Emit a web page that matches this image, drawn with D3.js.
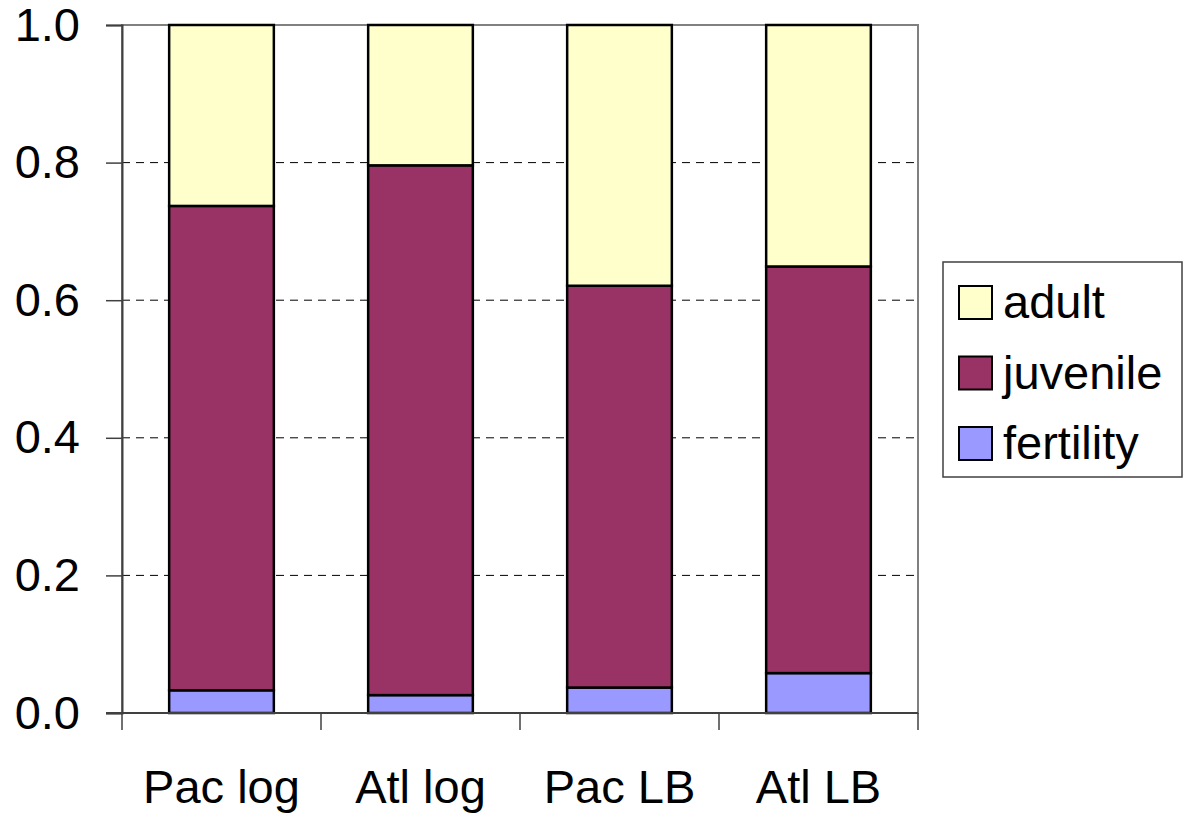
<!DOCTYPE html>
<html><head><meta charset="utf-8">
<script src="https://cdn.jsdelivr.net/npm/d3@7"></script>
<style>body{margin:0;background:#fff}svg{display:block}text{font-family:"Liberation Sans",Arial,sans-serif}</style>
</head><body><svg id="c" width="1189" height="819"></svg>
<script>
const categories = ["Pac log", "Atl log", "Pac LB", "Atl LB"];
const fertility = [0.033, 0.026, 0.037, 0.058];
const juvenile = [0.704, 0.770, 0.584, 0.591];
const adult = [0.263, 0.204, 0.379, 0.351];
const seriesNames = ["fertility", "juvenile", "adult"];
const colors = {fertility: "#9999FF", juvenile: "#993366", adult: "#FFFFCC"};
const yTicks = [0, 0.2, 0.4, 0.6, 0.8, 1.0];

const FS = 47;
const svg = d3.select("#c");
const L = 122, R = 918, T = 25, B = 713;
const x = d3.scaleBand().domain(categories).range([L, R]).paddingInner(0.474).paddingOuter(0.237);
const y = d3.scaleLinear().domain([0, 1]).range([B, T]);

const rows = categories.map((c, i) => ({cat: c, fertility: fertility[i], juvenile: juvenile[i], adult: adult[i]}));
const stacked = d3.stack().keys(seriesNames)(rows);

// plot border (gray)
svg.append("rect").attr("x", L).attr("y", T).attr("width", R - L).attr("height", B - T)
  .attr("fill", "none").attr("stroke", "#808080").attr("stroke-width", 2);

// gridlines
svg.append("g").selectAll("line").data(yTicks.filter(v => v > 0 && v < 1)).join("line")
  .attr("x1", L).attr("x2", R).attr("y1", d => y(d)).attr("y2", d => y(d))
  .attr("stroke", "#000").attr("stroke-width", 1).attr("stroke-dasharray", "8,6");

// bars
svg.append("g").selectAll("g").data(stacked).join("g")
  .attr("fill", d => colors[d.key])
  .selectAll("rect").data(d => d).join("rect")
  .attr("x", d => x(d.data.cat)).attr("width", x.bandwidth())
  .attr("y", d => y(d[1])).attr("height", d => y(d[0]) - y(d[1]))
  .attr("stroke", "#000").attr("stroke-width", 2.5);

// y axis
const ya = d3.axisLeft(y).tickValues(yTicks).tickFormat(d3.format(".1f")).tickSize(16).tickPadding(26);
const gy = svg.append("g").attr("transform", `translate(${L},0)`).call(ya);
gy.select(".domain").attr("stroke", "#404040").attr("stroke-width", 2);
gy.selectAll(".tick line").attr("stroke", "#404040").attr("stroke-width", 1.5);
gy.selectAll("text").attr("font-size", FS).attr("fill", "#000").attr("font-family", '"Liberation Sans",Arial,sans-serif');

// x axis
const xb = d3.scaleLinear().domain([0, categories.length]).range([L, R]);
const gx = svg.append("g").attr("transform", `translate(0,${B})`);
gx.append("line").attr("x1", L - 16).attr("x2", R).attr("y1", 0).attr("y2", 0).attr("stroke", "#404040").attr("stroke-width", 2);
gx.selectAll("line.t").data(d3.range(categories.length + 1)).join("line").attr("class", "t")
  .attr("x1", d => xb(d)).attr("x2", d => xb(d)).attr("y1", 0).attr("y2", 17)
  .attr("stroke", "#404040").attr("stroke-width", 1.5);
gx.selectAll("text").data(categories).join("text")
  .attr("x", d => x(d) + x.bandwidth() / 2).attr("y", 90)
  .attr("text-anchor", "middle").attr("font-size", FS).attr("fill", "#000").text(d => d);

// legend
const lg = svg.append("g");
lg.append("rect").attr("x", 943).attr("y", 262).attr("width", 239).attr("height", 215)
  .attr("fill", "#fff").attr("stroke", "#404040").attr("stroke-width", 1.5);
const legendItems = ["adult", "juvenile", "fertility"];
legendItems.forEach((k, i) => {
  const top = 286 + i * 70.5;
  lg.append("rect").attr("x", 959).attr("y", top).attr("width", 33).attr("height", 33)
    .attr("fill", colors[k]).attr("stroke", "#000").attr("stroke-width", 2);
  lg.append("text").attr("x", 1003).attr("y", top + 32).attr("font-size", FS).attr("fill", "#000").text(k);
});
</script></body></html>
